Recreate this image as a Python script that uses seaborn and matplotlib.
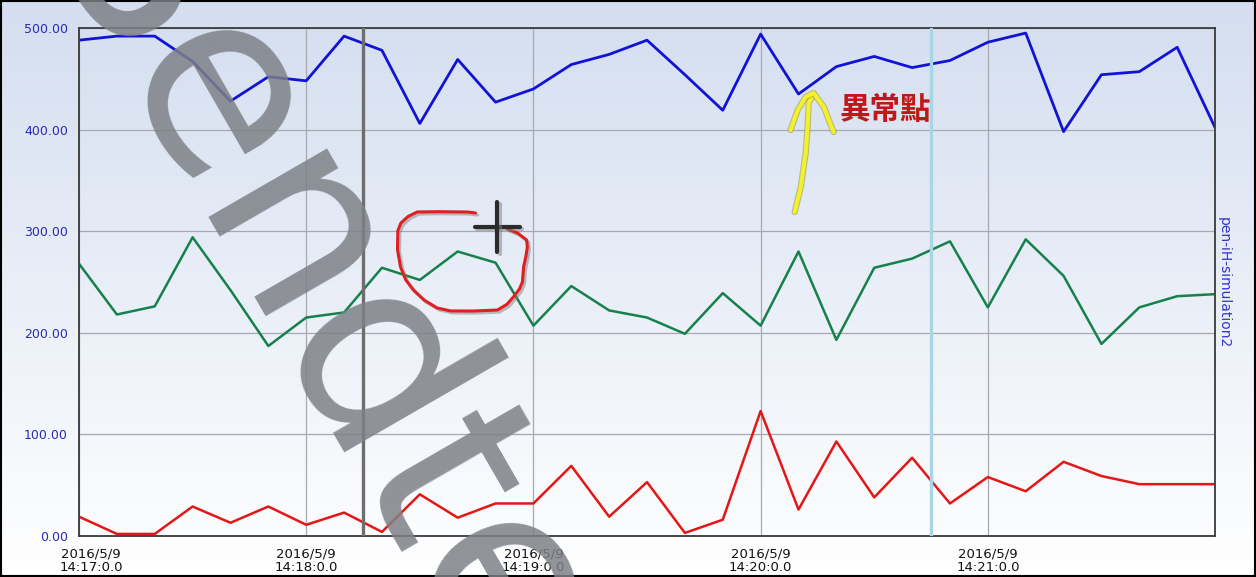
import numpy as np
import pandas as pd
import matplotlib
matplotlib.use("Agg")
import matplotlib.pyplot as plt
import matplotlib.patheffects as pe
import matplotlib.transforms as mtransforms
from matplotlib.ticker import FormatStrFormatter
import seaborn as sns

# ==========================================
# Data
# ==========================================
start = pd.Timestamp("2016-05-09 14:17:00")
times = pd.date_range(start, periods=31, freq="10s")

blue_vals = [488, 492, 492, 467, 428, 452, 448, 492, 478, 406,
             469, 427, 440, 464, 474, 488, 454, 419, 494, 435,
             462, 472, 461, 468, 486, 495, 398, 454, 457, 481, 402]
green_vals = [268, 218, 226, 294, 242, 187, 215, 220, 264, 252,
              280, 269, 207, 246, 222, 215, 199, 239, 207, 280,
              193, 264, 273, 290, 225, 292, 256, 189, 225, 236, 238]
red_vals = [19, 2, 2, 29, 13, 29, 11, 23, 4, 41,
            18, 32, 32, 69, 19, 53, 3, 16, 123, 26,
            93, 38, 77, 32, 58, 44, 73, 59, 51, 51, 51]

x_ticks = pd.date_range(start, periods=5, freq="60s")
x_tick_labels = ["2016/5/9\n14:17:0.0", "2016/5/9\n14:18:0.0", "2016/5/9\n14:19:0.0",
                 "2016/5/9\n14:20:0.0", "2016/5/9\n14:21:0.0"]
y_ticks = [0, 100, 200, 300, 400, 500]

# cursor markers (seconds after 14:17:00)
marker_dark_sec = 75
marker_light_sec = 225

# hand-drawn annotations, (seconds after start, value)
circle_sec = [104.7, 102.6, 95.0, 89.3, 86.9, 85.0, 84.2, 84.1, 84.9, 86.3, 88.3,
              91.2, 94.6, 98.1, 104.0, 110.5, 113.0, 114.7, 116.3, 117.1, 117.4,
              118.0, 118.4, 118.2, 115.8, 113.1]
circle_val = [317.9, 318.9, 319.2, 318.9, 314.5, 308.0, 300.5, 282.0, 264.8, 252.0, 242.1,
              232.0, 224.4, 221.5, 221.4, 222.4, 228.0, 235.2, 243.0, 250.0, 264.8,
              275.0, 284.4, 291.3, 298.2, 302.2]
arrow_sec = [189.0, 190.6, 191.9, 192.4, 192.7, 193.8]
arrow_val = [318.9, 343.5, 377.0, 402.6, 426.2, 434.1]
head_sec = [187.9, 189.8, 191.9, 194.0, 196.7, 198.0, 199.3]
head_val = [399.6, 419.3, 432.1, 436.0, 422.2, 409.4, 397.6]
cross_sec, cross_val = 110.5, 304.1
note_sec, note_val = 212.8, 419.3
note_text = "異常點"
right_label = "pen-iH-simulation2"
watermark = "Sendte"


def to_time(sec):
    return start + pd.to_timedelta(np.asarray(sec), unit="s")


# ==========================================
# Figure
# ==========================================
sns.set_style("white")
plt.rcParams["font.family"] = ["DejaVu Sans"]

fig = plt.figure(figsize=(12.56, 5.77), dpi=100)

# gradient background
bg = fig.add_axes([0, 0, 1, 1], zorder=-5)
grad = np.linspace(0, 1, 256).reshape(-1, 1)
top = np.array([0.83, 0.87, 0.94])
bottom = np.array([1.0, 1.0, 1.0])
img = top + (bottom - top) * grad[:, :, None]
bg.imshow(img, aspect="auto", extent=[0, 1, 0, 1])
bg.set_axis_off()

ax = fig.add_axes([0.0629, 0.0711, 0.9045, 0.8804])
ax.set_facecolor("none")

sns.lineplot(x=times, y=blue_vals, color="#1212d6", linewidth=2.0, ax=ax)
sns.lineplot(x=times, y=green_vals, color="#16814a", linewidth=1.8, ax=ax)
sns.lineplot(x=times, y=red_vals, color="#e41616", linewidth=1.8, ax=ax)

ax.axvline(to_time(marker_dark_sec), color="#6e6e6e", linewidth=2.4, zorder=4)
ax.axvline(to_time(marker_light_sec), color="#a9d6e4", linewidth=2.4, zorder=4)

ax.set_xlim(times[0], times[-1])
ax.set_ylim(0, 500)
ax.set_xticks(x_ticks)
ax.set_xticklabels(x_tick_labels, fontsize=9.5, color="#111111", linespacing=1.05)
ax.set_yticks(y_ticks)
ax.yaxis.set_major_formatter(FormatStrFormatter("%.2f"))
ax.tick_params(axis="y", labelsize=9, labelcolor="#2a2ab8", direction="out",
               length=6, width=1.2, color="#222222", pad=2)
ax.tick_params(axis="x", direction="out", length=5, width=1.2, color="#222222", pad=3)
ax.set_xlabel("")
ax.set_ylabel("")
ax.grid(True, color="#a8a8b0", linewidth=0.9)
for s in ax.spines.values():
    s.set_color("#3a3a3a")
    s.set_linewidth(1.3)
    s.set_visible(True)

# first date label is nudged right so it stays inside the frame
first = ax.get_xticklabels()[0]
first.set_transform(first.get_transform() +
                    mtransforms.ScaledTranslation(0.12, 0, fig.dpi_scale_trans))

fig.text(0.9745, 0.51, right_label, rotation=270, va="center", ha="center",
         fontsize=10, color="#3434cc")

# annotations
shadow = [pe.SimpleLineShadow(offset=(1.5, -1.5), shadow_color="gray", alpha=0.5), pe.Normal()]
ax.plot(to_time(circle_sec), circle_val, color="#e02020", linewidth=2.2,
        solid_capstyle="round", solid_joinstyle="round", zorder=6, path_effects=shadow)
ax.plot(to_time([cross_sec - 5.9, cross_sec + 5.9]), [cross_val, cross_val],
        color="#2b2b2b", linewidth=3, zorder=7, path_effects=shadow)
ax.plot(to_time([cross_sec, cross_sec]), [cross_val - 24.6, cross_val + 24.6],
        color="#2b2b2b", linewidth=3, zorder=7, path_effects=shadow)
ystroke = [pe.Stroke(linewidth=4.5, foreground="#9a9a40", alpha=0.6), pe.Normal()]
ax.plot(to_time(arrow_sec), arrow_val, color="#f4f02a", linewidth=3,
        solid_capstyle="round", zorder=6, path_effects=ystroke)
ax.plot(to_time(head_sec), head_val, color="#f4f02a", linewidth=3,
        solid_capstyle="round", solid_joinstyle="round", zorder=6, path_effects=ystroke)
ax.text(to_time(note_sec), note_val, note_text, color="#c01818", fontsize=22,
        fontweight="bold", ha="center", va="center", zorder=7,
        family=["Noto Sans CJK TC", "DejaVu Sans"])

# watermark
fig.text(0.2484, 0.501, watermark, rotation=-60, rotation_mode="anchor",
         ha="center", va="center", fontsize=180, color="#7d8086", alpha=0.85,
         zorder=20)

# outer frame
fig.patches.append(plt.Rectangle((0.0008, 0.001), 0.9984, 0.997, transform=fig.transFigure,
                                 fill=False, edgecolor="black", linewidth=1.5))

fig.savefig("out.png", dpi=100)
